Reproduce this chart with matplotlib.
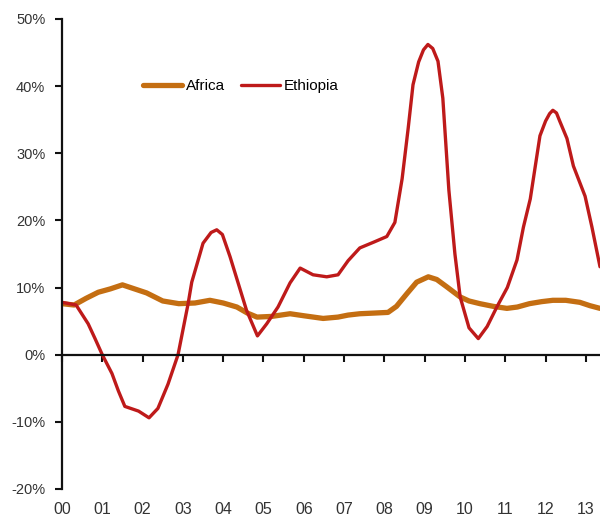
import matplotlib
matplotlib.use('Agg')
import matplotlib.pyplot as plt
from matplotlib.ticker import FuncFormatter

# ── Data (year offset from 2000, inflation in %) ──────────────────────────────
eth_years = [0.0, 0.35, 0.65, 0.82, 1.0, 1.24, 1.4, 1.56, 1.9, 2.16, 2.38, 2.63,
             2.88, 3.13, 3.22, 3.38, 3.5, 3.7, 3.84, 3.98, 4.17, 4.58, 4.85,
             5.08, 5.36, 5.66, 5.91, 6.23, 6.57, 6.85, 7.1, 7.39, 7.75, 8.06,
             8.26, 8.44, 8.59, 8.71, 8.85, 8.97, 9.08, 9.2, 9.33, 9.45, 9.6,
             9.75, 9.88, 10.1, 10.33, 10.55, 10.79, 11.05, 11.29, 11.45, 11.62,
             11.86, 12.0, 12.1, 12.18, 12.27, 12.35, 12.53, 12.69, 12.98, 13.15,
             13.35]
ethiopia = [7.8, 7.4, 4.6, 2.4, 0.0, -2.8, -5.4, -7.7, -8.4, -9.4, -8.0, -4.4,
            0.0, 7.6, 10.8, 14.1, 16.6, 18.2, 18.6, 17.9, 14.6, 6.6, 2.8,
            4.6, 7.1, 10.7, 12.9, 11.9, 11.6, 11.9, 14.0, 15.9, 16.8, 17.6,
            19.7, 26.2, 33.7, 40.2, 43.6, 45.4, 46.2, 45.6, 43.7, 38.2, 24.5,
            15.0, 8.6, 4.0, 2.4, 4.2, 7.1, 10.0, 14.1, 19.0, 23.2,
            32.6, 34.8, 35.9, 36.4, 36.0, 34.8, 32.2, 28.1, 23.6, 19.0,
            13.1]

afr_years = [0.0, 0.3, 0.6, 0.9, 1.2, 1.5, 1.8, 2.1, 2.5, 2.9, 3.3, 3.67, 4.0,
             4.34, 4.6, 4.84, 5.2, 5.66, 6.0, 6.48, 6.85, 7.1, 7.39, 7.75,
             8.09, 8.3, 8.56, 8.8, 9.09, 9.3, 9.55, 9.88, 10.1, 10.37, 10.7,
             11.04, 11.3, 11.6, 11.9, 12.18, 12.5, 12.85, 13.1, 13.35]
africa = [7.6, 7.4, 8.4, 9.3, 9.8, 10.4, 9.8, 9.2, 8.0, 7.6, 7.7, 8.1, 7.7,
          7.1, 6.2, 5.6, 5.7, 6.1, 5.8, 5.4, 5.6, 5.9, 6.1, 6.2,
          6.3, 7.2, 9.1, 10.8, 11.6, 11.2, 10.1, 8.6, 8.0, 7.6, 7.2,
          6.9, 7.1, 7.6, 7.9, 8.1, 8.1, 7.8, 7.3, 6.9]

year_ticks = list(range(14))
year_labels = ['%02d' % y for y in year_ticks]
pct_ticks = [-20, -10, 0, 10, 20, 30, 40, 50]

plt.rcParams['font.family'] = ['Liberation Sans', 'DejaVu Sans']

# ── Figure ────────────────────────────────────────────────────────────────────
fig = plt.figure(figsize=(6.0, 5.18), dpi=100)
ax = fig.add_axes([0.1033, 0.056, 0.8967, 0.9074])

ax.plot(afr_years, africa, color='#C46E12', lw=3.8, label='Africa',
        solid_capstyle='round', solid_joinstyle='round')
ax.plot(eth_years, ethiopia, color='#BE1A1A', lw=2.4, label='Ethiopia',
        solid_capstyle='round', solid_joinstyle='round')

ax.set_xlim(0, 13.35)
ax.set_ylim(-20, 50)

# x axis sits on the zero line, labels kept at the bottom
ax.spines['bottom'].set_position(('data', 0))
ax.spines['top'].set_visible(False)
ax.spines['right'].set_visible(False)
for s in ('left', 'bottom'):
    ax.spines[s].set_linewidth(1.6)
    ax.spines[s].set_color('#111111')

ax.set_xticks(year_ticks)
ax.set_xticklabels(year_labels)
ax.set_yticks(pct_ticks)
ax.yaxis.set_major_formatter(FuncFormatter(lambda v, _: '%d%%' % v))

ax.tick_params(axis='x', direction='out', length=5, width=1.5, pad=101,
               labelsize=11.5, colors='#111111', labelcolor='#333333')
ax.tick_params(axis='y', direction='out', length=5, width=1.5, pad=7,
               labelsize=10.5, colors='#111111', labelcolor='#333333')

ax.legend(loc='center left', bbox_to_anchor=(0.15, 0.857), ncol=2,
          frameon=False, fontsize=11, handlelength=2.6, handletextpad=0.25,
          columnspacing=1.0, borderaxespad=0, borderpad=0)

plt.savefig('out.png', dpi=100)
